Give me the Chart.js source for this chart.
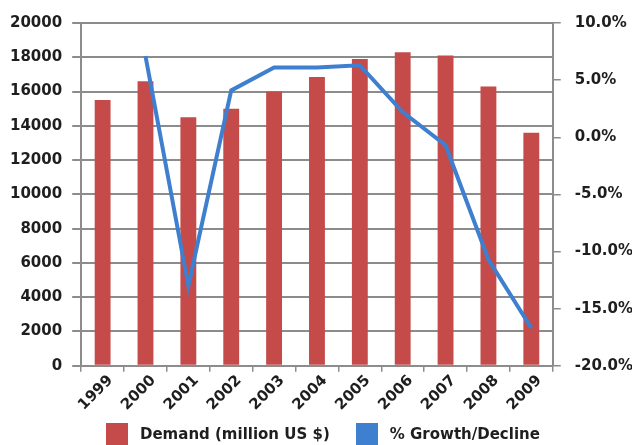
<!DOCTYPE html>
<html>
<head>
<meta charset="utf-8">
<script src="https://cdn.jsdelivr.net/npm/chart.js@4/dist/chart.umd.min.js"></script>
<style>
  html, body { margin: 0; padding: 0; background: #fff; }
  #wrap { position: relative; width: 632px; height: 445px; overflow: hidden; }
  #legend {
    position: absolute; left: 0; top: 423px; width: 632px; box-sizing: border-box;
    display: flex; justify-content: flex-start; gap: 26px; padding-left: 106px;
    font: bold 15px 'DejaVu Sans', sans-serif; color: #1e1e1e;
  }
  #legend span.item { display: flex; align-items: center; }
  #legend span.box { display: inline-block; width: 22px; height: 22px; margin-right: 12px; }
</style>
</head>
<body>
<div id="wrap">
  <canvas id="chart"></canvas>
  <div id="legend"></div>
</div>
<script>
// data
const years = ["1999", "2000", "2001", "2002", "2003", "2004", "2005", "2006", "2007", "2008", "2009"];
const demand = [15500, 16600, 14500, 15000, 16000, 16850, 17900, 18300, 18100, 16300, 13600];
const growth = [null, 7.1, -13.0, 4.1, 6.1, 6.1, 6.3, 2.2, -0.7, -10.7, -16.7];

const gridColor = "#8c8c8c";
const textColor = "#1e1e1e";
const font = { family: "'DejaVu Sans', sans-serif", size: 15, weight: "bold" };

const ctx = document.getElementById("chart").getContext("2d");

const chart = new Chart(ctx, {
  type: "bar",
  data: {
    labels: years,
    datasets: [
      {
        label: "Demand (million US $)",
        data: demand,
        backgroundColor: "#c44b49",
        borderWidth: 0,
        barPercentage: 0.74,
        categoryPercentage: 0.5,
        yAxisID: "y",
        order: 1
      },
      {
        type: "line",
        label: "% Growth/Decline",
        data: growth,
        borderColor: "#3e7fcf",
        backgroundColor: "#3e7fcf",
        borderWidth: 4,
        pointRadius: 0,
        tension: 0,
        fill: false,
        yAxisID: "y1",
        order: 0
      }
    ]
  },
  options: {
    responsive: true,
    maintainAspectRatio: false,
    animation: false,
    layout: { padding: { top: 6, right: -15, left: 0, bottom: 31 } },
    plugins: {
      tooltip: { enabled: false },
      legend: { display: false } // html legend below, spacing is easier to match
    },
    scales: {
      x: {
        grid: { display: true, drawOnChartArea: false, color: gridColor, lineWidth: 1.5, tickLength: 6, offset: true },
        border: { color: gridColor, width: 2 },
        ticks: { color: textColor, font: font, maxRotation: 45, minRotation: 45, padding: 0, labelOffset: 8 }
      },
      y: {
        position: "left",
        min: 0,
        max: 20000,
        grid: { color: gridColor, lineWidth: 2, tickLength: 9 },
        border: { color: gridColor, width: 2 },
        ticks: { stepSize: 2000, color: textColor, font: font, padding: 10, callback: (v) => String(v) }
      },
      y1: {
        position: "right",
        min: -20,
        max: 10,
        grid: { drawOnChartArea: false, color: gridColor, lineWidth: 1.5, tickLength: 8 },
        border: { color: gridColor, width: 2 },
        ticks: {
          stepSize: 5,
          color: textColor,
          font: font,
          padding: 14,
          callback: (v) => v.toFixed(1) + "%"
        }
      }
    }
  }
});

// legend built from the chart's own datasets
const legendEl = document.getElementById("legend");
chart.data.datasets.forEach((ds) => {
  const item = document.createElement("span");
  item.className = "item";
  const box = document.createElement("span");
  box.className = "box";
  box.style.background = ds.backgroundColor;
  item.appendChild(box);
  item.appendChild(document.createTextNode(ds.label));
  legendEl.appendChild(item);
});
</script>
</body>
</html>
